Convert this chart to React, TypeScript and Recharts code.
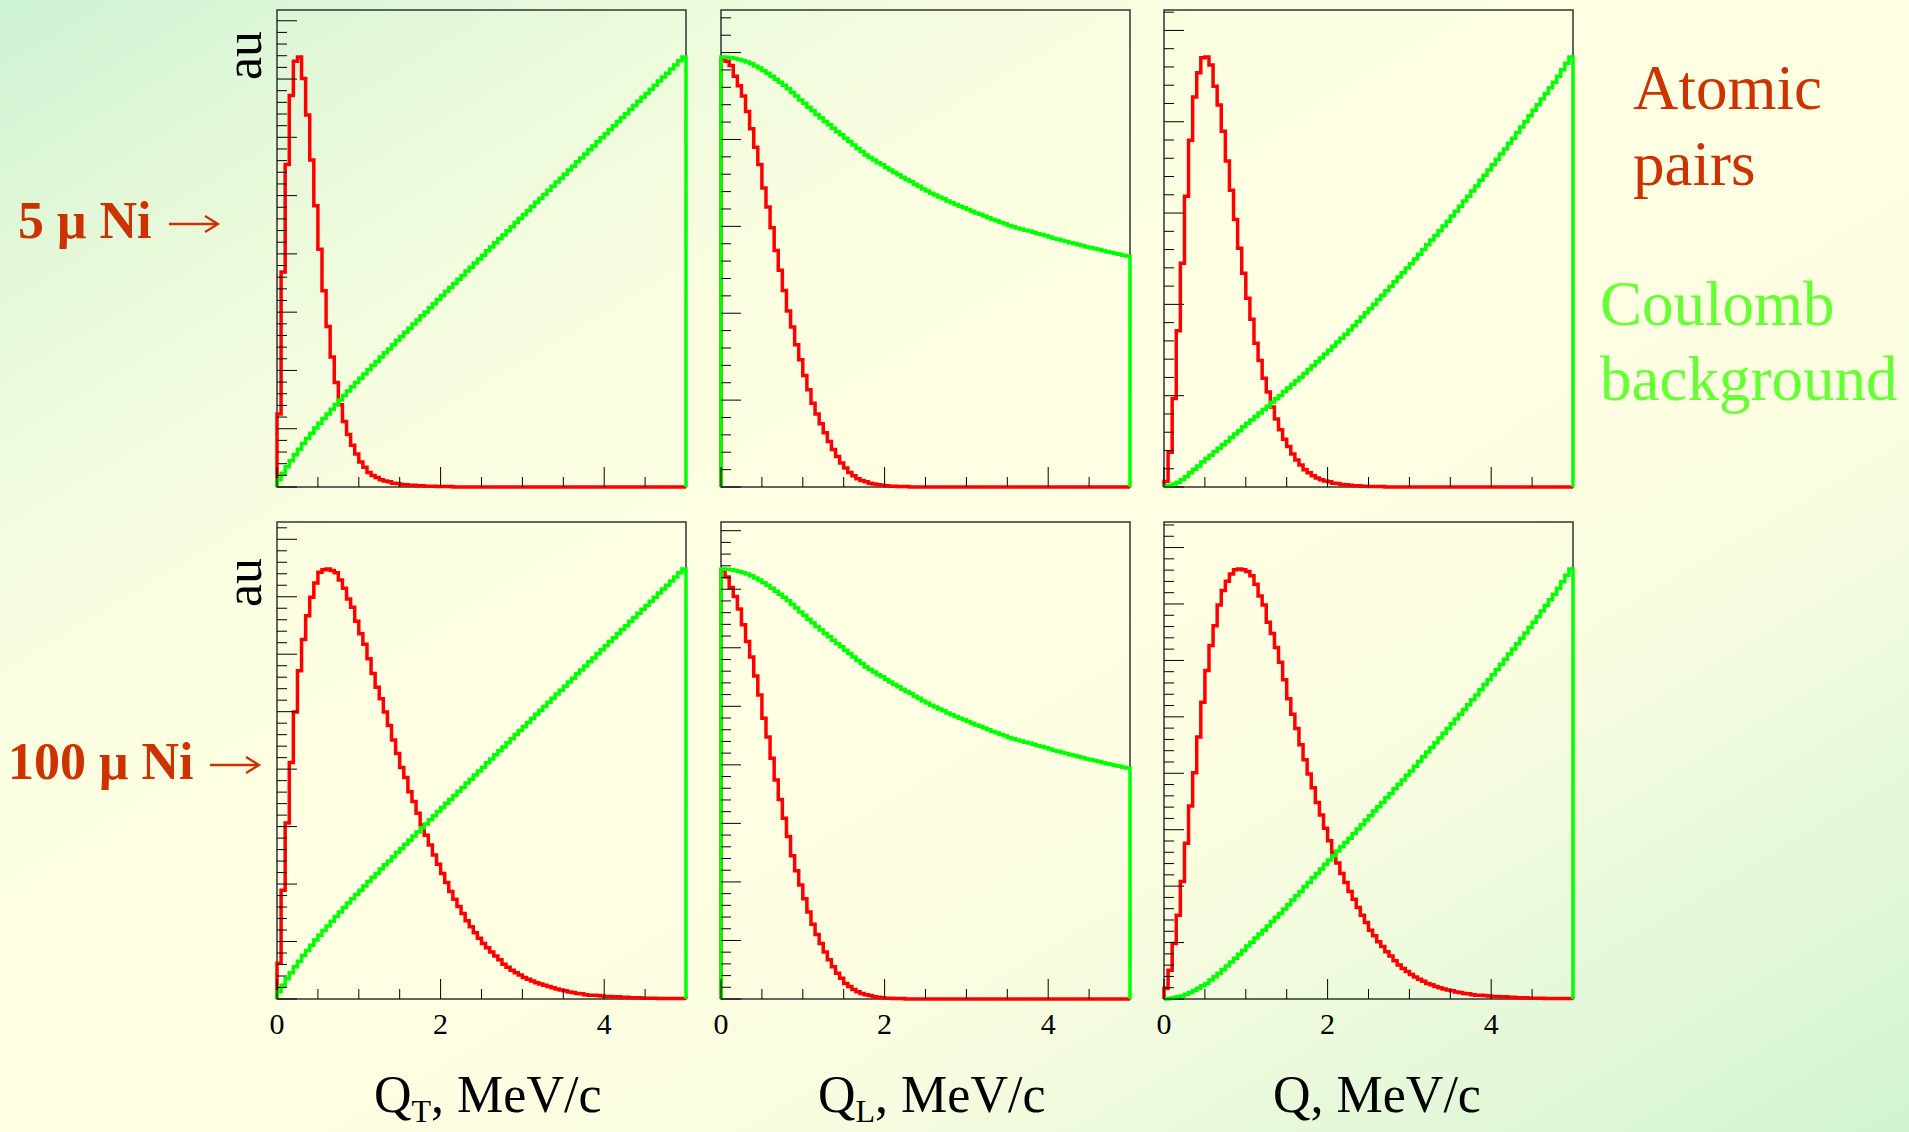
import React from 'react'
import { LineChart, Line, XAxis, YAxis, ReferenceArea } from 'recharts'

// 100 bins of 0.05 MeV/c from 0 to 5, every histogram scaled to a peak of 1
const BIN_WIDTH = 0.05
const X_MAX = 5
const Y_MAX = 1.109

const xTicks = [0, 0.5, 1, 1.5, 2, 2.5, 3, 3.5, 4, 4.5]
const xLabelTicks = [0, 2, 4]

// atomic pairs, 5 micron Ni
const atomicQT5 = [
  0.170, 0.500, 0.750, 0.910, 0.990, 1.000, 0.950, 0.865, 0.760, 0.654,
  0.553, 0.456, 0.373, 0.302, 0.243, 0.191, 0.152, 0.122, 0.097, 0.077,
  0.058, 0.046, 0.034, 0.027, 0.022, 0.017, 0.014, 0.012, 0.009, 0.008,
  0.006, 0.005, 0.004, 0.004, 0.003, 0.003, 0.002, 0.002, 0.002, 0.001,
  0.001, 0.001, 0.001, 0, 0, 0, 0, 0, 0, 0,
  0, 0, 0, 0, 0, 0, 0, 0, 0, 0,
  0, 0, 0, 0, 0, 0, 0, 0, 0, 0,
  0, 0, 0, 0, 0, 0, 0, 0, 0, 0,
  0, 0, 0, 0, 0, 0, 0, 0, 0, 0,
  0, 0, 0, 0, 0, 0, 0, 0, 0, 0,
]
const atomicQL5 = [
  0.995, 0.990, 0.980, 0.955, 0.933, 0.909, 0.873, 0.833, 0.790, 0.750,
  0.695, 0.651, 0.603, 0.550, 0.504, 0.457, 0.409, 0.372, 0.331, 0.296,
  0.259, 0.226, 0.195, 0.170, 0.147, 0.126, 0.106, 0.087, 0.071, 0.056,
  0.044, 0.034, 0.026, 0.019, 0.015, 0.012, 0.009, 0.007, 0.005, 0.004,
  0.003, 0.002, 0.002, 0.001, 0.001, 0.001, 0, 0, 0, 0,
  0, 0, 0, 0, 0, 0, 0, 0, 0, 0,
  0, 0, 0, 0, 0, 0, 0, 0, 0, 0,
  0, 0, 0, 0, 0, 0, 0, 0, 0, 0,
  0, 0, 0, 0, 0, 0, 0, 0, 0, 0,
  0, 0, 0, 0, 0, 0, 0, 0, 0, 0,
]
const atomicQ5 = [
  0.013, 0.081, 0.206, 0.363, 0.520, 0.676, 0.806, 0.907, 0.963, 0.998,
  1.000, 0.981, 0.932, 0.888, 0.827, 0.758, 0.690, 0.622, 0.555, 0.497,
  0.439, 0.390, 0.334, 0.294, 0.253, 0.221, 0.186, 0.158, 0.133, 0.111,
  0.094, 0.077, 0.063, 0.051, 0.040, 0.033, 0.026, 0.021, 0.017, 0.014,
  0.012, 0.009, 0.008, 0.006, 0.005, 0.004, 0.003, 0.003, 0.002, 0.002,
  0.001, 0.001, 0.001, 0.001, 0, 0, 0, 0, 0, 0,
  0, 0, 0, 0, 0, 0, 0, 0, 0, 0,
  0, 0, 0, 0, 0, 0, 0, 0, 0, 0,
  0, 0, 0, 0, 0, 0, 0, 0, 0, 0,
  0, 0, 0, 0, 0, 0, 0, 0, 0, 0,
]

// atomic pairs, 100 micron Ni
const atomicQT100 = [
  0.083, 0.253, 0.409, 0.550, 0.667, 0.763, 0.836, 0.891, 0.934, 0.967,
  0.992, 0.998, 1.000, 0.996, 0.991, 0.974, 0.955, 0.930, 0.911, 0.878,
  0.849, 0.825, 0.791, 0.757, 0.725, 0.698, 0.667, 0.636, 0.602, 0.571,
  0.538, 0.515, 0.482, 0.459, 0.432, 0.405, 0.381, 0.358, 0.335, 0.313,
  0.292, 0.271, 0.250, 0.232, 0.215, 0.199, 0.182, 0.168, 0.154, 0.141,
  0.129, 0.119, 0.109, 0.100, 0.091, 0.081, 0.074, 0.067, 0.061, 0.056,
  0.050, 0.046, 0.042, 0.038, 0.035, 0.032, 0.029, 0.026, 0.023, 0.021,
  0.019, 0.016, 0.015, 0.013, 0.012, 0.010, 0.009, 0.009, 0.008, 0.007,
  0.006, 0.006, 0.005, 0.005, 0.004, 0.004, 0.003, 0.003, 0.003, 0.002,
  0.002, 0.002, 0.002, 0.001, 0.001, 0.001, 0.001, 0.001, 0.001, 0.001,
]
const atomicQL100 = [
  0.998, 0.981, 0.957, 0.936, 0.907, 0.870, 0.831, 0.795, 0.751, 0.707,
  0.653, 0.609, 0.560, 0.509, 0.464, 0.420, 0.378, 0.333, 0.298, 0.265,
  0.233, 0.202, 0.174, 0.150, 0.129, 0.109, 0.091, 0.075, 0.060, 0.048,
  0.036, 0.029, 0.022, 0.017, 0.013, 0.010, 0.008, 0.005, 0.004, 0.003,
  0.002, 0.002, 0.001, 0.001, 0.001, 0, 0, 0, 0, 0,
  0, 0, 0, 0, 0, 0, 0, 0, 0, 0,
  0, 0, 0, 0, 0, 0, 0, 0, 0, 0,
  0, 0, 0, 0, 0, 0, 0, 0, 0, 0,
  0, 0, 0, 0, 0, 0, 0, 0, 0, 0,
  0, 0, 0, 0, 0, 0, 0, 0, 0, 0,
]
const atomicQ100 = [
  0.025, 0.067, 0.129, 0.195, 0.273, 0.362, 0.449, 0.526, 0.609, 0.690,
  0.764, 0.822, 0.868, 0.916, 0.950, 0.971, 0.988, 0.998, 1.000, 0.998,
  0.994, 0.984, 0.964, 0.937, 0.916, 0.876, 0.850, 0.817, 0.783, 0.742,
  0.698, 0.662, 0.629, 0.591, 0.556, 0.523, 0.491, 0.457, 0.428, 0.397,
  0.368, 0.341, 0.316, 0.292, 0.271, 0.250, 0.232, 0.213, 0.195, 0.178,
  0.160, 0.147, 0.133, 0.122, 0.110, 0.100, 0.089, 0.079, 0.071, 0.064,
  0.057, 0.051, 0.046, 0.041, 0.036, 0.033, 0.029, 0.026, 0.023, 0.021,
  0.019, 0.016, 0.015, 0.013, 0.012, 0.010, 0.009, 0.009, 0.008, 0.007,
  0.006, 0.006, 0.005, 0.005, 0.004, 0.004, 0.003, 0.003, 0.003, 0.002,
  0.002, 0.002, 0.002, 0.001, 0.001, 0.001, 0.001, 0.001, 0.001, 0.001,
]

// Coulomb background
const coulombQT = [
  0.017, 0.032, 0.047, 0.061, 0.075, 0.088, 0.101, 0.113, 0.125, 0.137,
  0.148, 0.159, 0.170, 0.181, 0.192, 0.202, 0.213, 0.223, 0.233, 0.243,
  0.253, 0.263, 0.273, 0.283, 0.292, 0.302, 0.312, 0.321, 0.331, 0.341,
  0.350, 0.360, 0.369, 0.379, 0.388, 0.398, 0.407, 0.417, 0.426, 0.436,
  0.445, 0.455, 0.464, 0.473, 0.483, 0.492, 0.502, 0.511, 0.521, 0.530,
  0.539, 0.549, 0.558, 0.568, 0.577, 0.586, 0.596, 0.605, 0.615, 0.624,
  0.633, 0.643, 0.652, 0.662, 0.671, 0.680, 0.690, 0.699, 0.709, 0.718,
  0.727, 0.737, 0.746, 0.756, 0.765, 0.774, 0.784, 0.793, 0.803, 0.812,
  0.821, 0.831, 0.840, 0.850, 0.859, 0.868, 0.878, 0.887, 0.897, 0.906,
  0.915, 0.925, 0.934, 0.944, 0.953, 0.962, 0.972, 0.981, 0.991, 1.000,
]
const coulombQL = [
  1.000, 0.999, 0.998, 0.996, 0.994, 0.991, 0.988, 0.984, 0.979, 0.974,
  0.968, 0.962, 0.955, 0.948, 0.941, 0.934, 0.926, 0.917, 0.909, 0.900,
  0.892, 0.883, 0.875, 0.866, 0.858, 0.850, 0.842, 0.834, 0.826, 0.819,
  0.811, 0.803, 0.795, 0.787, 0.780, 0.772, 0.766, 0.760, 0.754, 0.749,
  0.743, 0.737, 0.731, 0.726, 0.720, 0.715, 0.710, 0.704, 0.699, 0.693,
  0.688, 0.683, 0.679, 0.674, 0.670, 0.665, 0.661, 0.657, 0.653, 0.649,
  0.645, 0.641, 0.637, 0.634, 0.630, 0.626, 0.622, 0.619, 0.615, 0.612,
  0.608, 0.605, 0.602, 0.600, 0.597, 0.595, 0.592, 0.589, 0.587, 0.584,
  0.581, 0.578, 0.576, 0.573, 0.571, 0.568, 0.566, 0.563, 0.561, 0.558,
  0.556, 0.554, 0.552, 0.549, 0.547, 0.545, 0.543, 0.541, 0.539, 0.537,
]
const coulombQ5 = [
  0.001, 0.003, 0.007, 0.011, 0.017, 0.024, 0.033, 0.041, 0.049, 0.058,
  0.066, 0.074, 0.082, 0.090, 0.098, 0.106, 0.115, 0.123, 0.131, 0.140,
  0.148, 0.156, 0.164, 0.172, 0.180, 0.188, 0.197, 0.205, 0.213, 0.222,
  0.230, 0.239, 0.247, 0.255, 0.264, 0.273, 0.282, 0.291, 0.300, 0.309,
  0.318, 0.327, 0.337, 0.346, 0.355, 0.365, 0.375, 0.385, 0.395, 0.405,
  0.415, 0.425, 0.436, 0.446, 0.456, 0.466, 0.477, 0.488, 0.498, 0.509,
  0.519, 0.530, 0.541, 0.552, 0.563, 0.574, 0.585, 0.596, 0.607, 0.618,
  0.630, 0.641, 0.653, 0.665, 0.676, 0.688, 0.700, 0.713, 0.725, 0.737,
  0.749, 0.762, 0.774, 0.786, 0.799, 0.811, 0.824, 0.837, 0.850, 0.863,
  0.876, 0.889, 0.902, 0.915, 0.928, 0.941, 0.955, 0.970, 0.985, 1.000,
]
const coulombQ100 = [
  0.000, 0.001, 0.003, 0.005, 0.007, 0.011, 0.015, 0.020, 0.025, 0.031,
  0.036, 0.044, 0.052, 0.060, 0.068, 0.077, 0.086, 0.095, 0.104, 0.113,
  0.123, 0.132, 0.142, 0.151, 0.160, 0.170, 0.180, 0.190, 0.199, 0.209,
  0.219, 0.230, 0.240, 0.250, 0.261, 0.271, 0.282, 0.292, 0.302, 0.313,
  0.323, 0.333, 0.344, 0.354, 0.364, 0.374, 0.385, 0.395, 0.405, 0.416,
  0.426, 0.437, 0.447, 0.457, 0.468, 0.478, 0.489, 0.499, 0.509, 0.520,
  0.530, 0.541, 0.552, 0.563, 0.574, 0.585, 0.596, 0.607, 0.618, 0.629,
  0.640, 0.651, 0.662, 0.673, 0.684, 0.696, 0.707, 0.719, 0.731, 0.742,
  0.754, 0.766, 0.778, 0.790, 0.802, 0.814, 0.826, 0.839, 0.851, 0.864,
  0.876, 0.889, 0.902, 0.915, 0.928, 0.941, 0.955, 0.970, 0.985, 1.000,
]

// spacing of the long y ticks, in peak units, for each pad
const yMajorSteps = [0.1355, 0.202, 0.2123, 0.1336, 0.1361, 0.1312]

const FRAME_W = 409
const FRAME_H = 477
const PAD = 10
const COLS = [277, 721, 1164]
const ROWS = [10, 522]

const panels = [
  { red: atomicQT5, green: coulombQT, col: 0, row: 0 },
  { red: atomicQL5, green: coulombQL, col: 1, row: 0 },
  { red: atomicQ5, green: coulombQ5, col: 2, row: 0 },
  { red: atomicQT100, green: coulombQT, col: 0, row: 1 },
  { red: atomicQL100, green: coulombQL, col: 1, row: 1 },
  { red: atomicQ100, green: coulombQ100, col: 2, row: 1 },
]

const SERIF = '"Liberation Serif", "Times New Roman", serif'
const ORANGE = '#cc3300'

function histRows(red: number[], green: number[]) {
  const rows = [{ x: 0, red: 0, green: 0 }]
  red.forEach((r, i) => rows.push({ x: +(i * BIN_WIDTH).toFixed(2), red: r, green: green[i] }))
  rows.push({ x: X_MAX, red: red[red.length - 1], green: green[green.length - 1] })
  rows.push({ x: X_MAX, red: 0, green: 0 })
  return rows
}

function yTicks(step: number) {
  const minor = step / 5
  const out: number[] = []
  for (let k = 0; k * minor <= Y_MAX; k++) out.push(+(k * minor).toFixed(5))
  return out
}

function XTick(props: any) {
  const { x, y, payload, showLabel } = props
  const major = payload.value % 2 === 0
  return (
    <g>
      <line x1={x} x2={x} y1={y} y2={y - (major ? 20 : 10)} stroke="#000" strokeWidth={1} />
      {showLabel && xLabelTicks.includes(payload.value) && (
        <text x={x} y={y + 35} textAnchor="middle" fontFamily={SERIF} fontSize={30} fill="#000">
          {payload.value}
        </text>
      )}
    </g>
  )
}

function YTick(props: any) {
  const { x, y, payload, minor } = props
  const major = Math.round(payload.value / minor) % 5 === 0
  return <line x1={x} x2={x + (major ? 20 : 10)} y1={y} y2={y} stroke="#000" strokeWidth={1} />
}

function Panel({ index }: { index: number }) {
  const p = panels[index]
  const withLabels = p.row === 1
  const bottom = withLabels ? 50 : PAD
  const step = yMajorSteps[index]
  return (
    <div style={{ position: 'absolute', left: COLS[p.col] - PAD, top: ROWS[p.row] - PAD }}>
      <LineChart
        width={FRAME_W + 2 * PAD}
        height={FRAME_H + PAD + bottom}
        data={histRows(p.red, p.green)}
        margin={{ top: PAD, right: PAD, bottom: bottom - 1, left: PAD - 1 }}
      >
        <XAxis
          dataKey="x"
          type="number"
          domain={[0, X_MAX]}
          ticks={xTicks}
          interval={0}
          height={1}
          tickSize={0}
          tickMargin={0}
          axisLine={false}
          tickLine={false}
          tick={(t: any) => <XTick {...t} showLabel={withLabels} />}
        />
        <YAxis
          type="number"
          domain={[0, Y_MAX]}
          ticks={yTicks(step)}
          interval={0}
          width={1}
          tickSize={0}
          tickMargin={0}
          axisLine={false}
          tickLine={false}
          tick={(t: any) => <YTick {...t} minor={step / 5} />}
        />
        <ReferenceArea x1={0} x2={X_MAX} y1={0} y2={Y_MAX} fill="none" stroke="#333" strokeWidth={1.5} />
        <Line dataKey="red" type="stepAfter" stroke="#ff0000" strokeWidth={3.5} dot={false} isAnimationActive={false} />
        <Line dataKey="green" type="stepAfter" stroke="#00ff00" strokeWidth={3.5} dot={false} isAnimationActive={false} />
      </LineChart>
    </div>
  )
}

function Arrow({ x, y }: { x: number; y: number }) {
  return (
    <g stroke={ORANGE} strokeWidth={2.3} fill="none">
      <line x1={x} y1={y} x2={x + 48} y2={y} />
      <path d={`M ${x + 36} ${y - 8} L ${x + 49} ${y} L ${x + 36} ${y + 8}`} />
    </g>
  )
}

export default function App() {
  return (
    <div
      style={{
        position: 'absolute',
        left: 0,
        top: 0,
        width: 1909,
        height: 1132,
        overflow: 'hidden',
        background:
          'linear-gradient(to bottom right, #cdf3d3 0%, #e8f9da 15%, #fbfee1 32%, #ffffe3 50%, #fbfde0 68%, #e6f8da 85%, #d0f4d1 100%)',
      }}
    >
      {panels.map((_, i) => (
        <Panel key={i} index={i} />
      ))}
      <svg width={1909} height={1132} style={{ position: 'absolute', left: 0, top: 0, pointerEvents: 'none' }}>
        <g fontFamily={SERIF}>
          <text transform="translate(261,80) rotate(-90)" fontSize={52} fill="#000">au</text>
          <text transform="translate(261,607) rotate(-90)" fontSize={52} fill="#000">au</text>

          <text x={18} y={238} fontSize={52} fontWeight="bold" fill={ORANGE}>5 μ Ni</text>
          <Arrow x={169} y={224} />
          <text x={8} y={779} fontSize={52} fontWeight="bold" fill={ORANGE}>100 μ Ni</text>
          <Arrow x={210} y={765} />

          <text x={1633} y={109} fontSize={63} fill={ORANGE}>Atomic</text>
          <text x={1633} y={185} fontSize={63} fill={ORANGE}>pairs</text>
          <text x={1600} y={325} fontSize={63} fill="#66ff33">Coulomb</text>
          <text x={1600} y={400} fontSize={63} fill="#66ff33">background</text>

          <text x={374} y={1112} fontSize={52} fill="#000">
            Q<tspan fontSize={32} dy={10}>T</tspan>
            <tspan dy={-10}>, MeV/c</tspan>
          </text>
          <text x={818} y={1112} fontSize={52} fill="#000">
            Q<tspan fontSize={32} dy={10}>L</tspan>
            <tspan dy={-10}>, MeV/c</tspan>
          </text>
          <text x={1273} y={1112} fontSize={52} fill="#000">Q, MeV/c</text>
        </g>
      </svg>
    </div>
  )
}
